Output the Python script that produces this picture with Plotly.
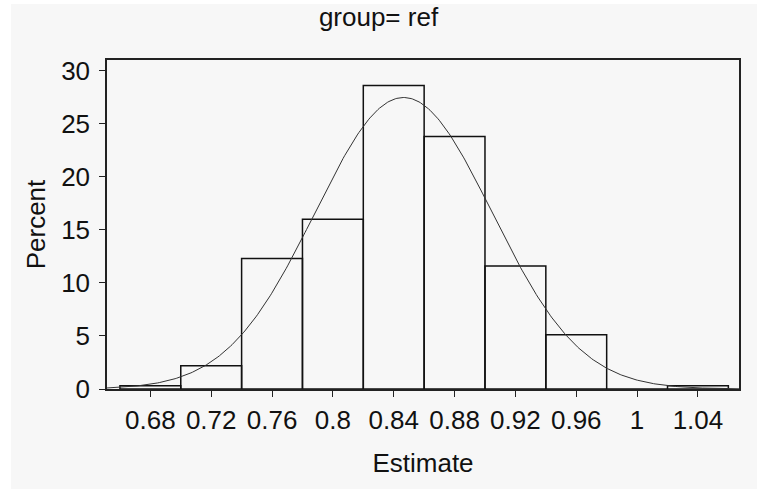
import numpy as np
import plotly.graph_objects as go

# Histogram of estimates for group "ref" (percent of samples per bin)
bin_mid = [0.68, 0.72, 0.76, 0.80, 0.84, 0.88, 0.92, 0.96, 1.00, 1.04]
percent = [0.3, 2.2, 12.3, 16.0, 28.6, 23.8, 11.6, 5.1, 0.0, 0.3]
bin_width = 0.04

# Fitted normal density parameters
mu = 0.8465
sigma = 0.0581

tick_vals = [0.68, 0.72, 0.76, 0.80, 0.84, 0.88, 0.92, 0.96, 1.00, 1.04]
tick_text = ["0.68", "0.72", "0.76", "0.8", "0.84", "0.88", "0.92", "0.96", "1", "1.04"]
y_ticks = [0, 5, 10, 15, 20, 25, 30]

x_lo, x_hi = 0.6515, 1.067
y_hi = 31.0

FONT = "Liberation Sans, Arial, sans-serif"
BG = "#f7f7f7"
FS = 26

xs = np.linspace(x_lo, x_hi, 400)
dens = 100 * bin_width * np.exp(-0.5 * ((xs - mu) / sigma) ** 2) / (sigma * np.sqrt(2 * np.pi))

fig = go.Figure()
fig.add_trace(go.Bar(
    x=bin_mid, y=percent, width=bin_width,
    marker=dict(color="rgba(0,0,0,0)", line=dict(color="#111111", width=1.5)),
    hoverinfo="x+y",
))
fig.add_trace(go.Scatter(
    x=xs, y=dens, mode="lines",
    line=dict(color="#333333", width=1),
    hoverinfo="skip",
))

axis_common = dict(
    showgrid=False, zeroline=False,
    showline=True, linecolor="#222222", linewidth=1.5, mirror=True,
    ticks="outside", ticklen=6, tickwidth=1, tickcolor="#222222",
    tickfont=dict(family=FONT, size=FS, color="#111111"),
)

fig.update_layout(
    width=757, height=489,
    margin=dict(l=107, r=18, t=60, b=100),
    paper_bgcolor="white", plot_bgcolor="rgba(0,0,0,0)",
    showlegend=False,
    font=dict(family=FONT, color="#111111"),
    title=dict(text="group= ref", x=0.5, xanchor="center", y=0.966, yanchor="middle",
               font=dict(family=FONT, size=FS, color="#111111")),
    xaxis=dict(range=[x_lo, x_hi], tickvals=tick_vals, ticktext=tick_text,
               ticklabelstandoff=1,
               title=dict(text="Estimate", font=dict(family=FONT, size=FS), standoff=20),
               **axis_common),
    yaxis=dict(range=[0, y_hi], tickvals=y_ticks, ticklabelstandoff=4,
               title=dict(text="Percent", font=dict(family=FONT, size=FS), standoff=8),
               **axis_common),
    shapes=[dict(type="rect", xref="paper", yref="paper",
                 x0=-0.152, x1=2, y0=-1, y1=1.170,
                 fillcolor=BG, line=dict(width=0), layer="below")],
)

fig.write_html("out.html")
